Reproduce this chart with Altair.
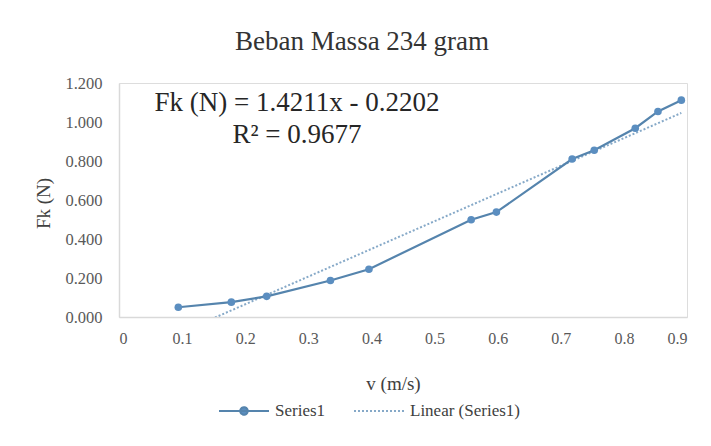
import altair as alt
import pandas as pd

# ---- data ----
v_values = [0.094, 0.178, 0.234, 0.335, 0.396, 0.558, 0.598, 0.718, 0.753, 0.818, 0.854, 0.891]
fk_values = [0.050, 0.076, 0.106, 0.187, 0.245, 0.499, 0.538, 0.810, 0.855, 0.968, 1.054, 1.112]
series_names = ["Series1", "Linear (Series1)"]
x_ticks = [0, 0.1, 0.2, 0.3, 0.4, 0.5, 0.6, 0.7, 0.8, 0.9]
y_ticks = [0, 0.2, 0.4, 0.6, 0.8, 1.0, 1.2]
annot_text = ["Fk (N) = 1.4211x - 0.2202", "R\u00b2 = 0.9677"]
annot_x = [0.282, 0.282]
annot_y = [1.100, 0.935]

FONT = "Liberation Serif, Times New Roman, DejaVu Serif, serif"
LINE_COLOR = "#5584ad"
TREND_COLOR = "#86a9c8"
POINT_COLOR = "#5b8ec0"

df = pd.DataFrame({"v": v_values, "fk": fk_values, "series": series_names[0]})
ann = pd.DataFrame({"x": annot_x, "y": annot_y, "t": annot_text})

x_scale = alt.Scale(domain=[0, 0.9], nice=False, zero=False)
y_scale = alt.Scale(domain=[0, 1.2], nice=False)

color_scale = alt.Scale(domain=series_names, range=[LINE_COLOR, TREND_COLOR])

path_series = "M-1,0L1,0M0.15,0A0.15,0.15,0,1,1,-0.15,0A0.15,0.15,0,1,1,0.15,0Z"
path_linear = "M-1,0L1,0"

legend = alt.Legend(
    orient="none",
    legendX=99,
    legendY=302,
    direction="horizontal",
    title=None,
    symbolSize=2500,
    symbolStrokeWidth=2,
    symbolType={"expr": f"datum.value === 'Series1' ? '{path_series}' : '{path_linear}'"},
    symbolDash={"expr": "datum.value === 'Series1' ? [1, 0] : [2, 2]"},
    symbolFillColor={"expr": f"datum.value === 'Series1' ? '{POINT_COLOR}' : 'transparent'"},
    symbolStrokeColor={"expr": f"datum.value === 'Series1' ? '{LINE_COLOR}' : '{TREND_COLOR}'"},
    symbolOpacity=1,
    labelFont=FONT,
    labelFontSize=17,
    labelColor="#404040",
    labelOffset=5,
    columnPadding=24,
)

x_axis = alt.Axis(
    values=x_ticks,
    labelExpr="datum.value == 0 ? '0' : format(datum.value, '.1f')",
    title="v (m/s)",
    titleFont=FONT,
    titleFontSize=19,
    titleFontWeight="normal",
    titleColor="#404040",
    titleX=274,
    titleY=66,
    titleBaseline="middle",
    titleAlign="center",
    labelFont=FONT,
    labelFontSize=16,
    labelColor="#595959",
    labelPadding=13,
    labelOverlap=False,
    ticks=False,
    tickSize=0,
    grid=False,
    domainColor="#d9d9d9",
    domainWidth=1.5,
)

y_axis = alt.Axis(
    values=y_ticks,
    format=".3f",
    title="Fk (N)",
    titleFont=FONT,
    titleFontSize=19,
    titleFontWeight="normal",
    titleColor="#404040",
    titleAngle=270,
    titleX=-76,
    titleY=120,
    titleBaseline="middle",
    titleAlign="center",
    labelFont=FONT,
    labelFontSize=16.5,
    labelColor="#595959",
    labelPadding=17,
    labelOverlap=False,
    ticks=False,
    tickSize=0,
    grid=False,
    domainColor="#d9d9d9",
    domainWidth=1.5,
)

base = alt.Chart(df)

trend = base.transform_regression("v", "fk").transform_calculate(
    series=f"'{series_names[1]}'"
).mark_line(strokeDash=[2, 2], strokeWidth=2, clip=True).encode(
    x=alt.X("v:Q", scale=x_scale, axis=x_axis),
    y=alt.Y("fk:Q", scale=y_scale, axis=y_axis),
    color=alt.Color("series:N", scale=color_scale, legend=legend),
)

line = base.mark_line(strokeWidth=2.2).encode(
    x=alt.X("v:Q", scale=x_scale, axis=x_axis),
    y=alt.Y("fk:Q", scale=y_scale, axis=y_axis),
    color=alt.Color("series:N", scale=color_scale, legend=legend),
)

points = base.mark_point(filled=True, size=58, opacity=1, color=POINT_COLOR).encode(
    x=alt.X("v:Q", scale=x_scale, axis=x_axis),
    y=alt.Y("fk:Q", scale=y_scale, axis=y_axis),
)

text = alt.Chart(ann).mark_text(
    font=FONT, fontSize=27, color="#262626", align="center", baseline="middle"
).encode(
    x=alt.X("x:Q", scale=x_scale, axis=x_axis),
    y=alt.Y("y:Q", scale=y_scale, axis=y_axis),
    text="t:N",
)

chart = alt.layer(trend, line, points, text).properties(
    width=568,
    height=234,
    title=alt.TitleParams(
        "Beban Massa 234 gram",
        font=FONT,
        fontSize=27,
        fontWeight="normal",
        color="#333333",
        anchor="middle",
        dx=-41,
        offset=19,
    ),
    autosize=alt.AutoSizeParams(type="none"),
    padding={"left": 111, "top": 75, "right": 16, "bottom": 121},
).configure_view(stroke=None).configure(
    background="white", font=FONT
).configure_axis(labelFont=FONT, titleFont=FONT).configure_legend(labelFont=FONT)

chart.save("out.html", embed_options={"renderer": "svg", "actions": False})
